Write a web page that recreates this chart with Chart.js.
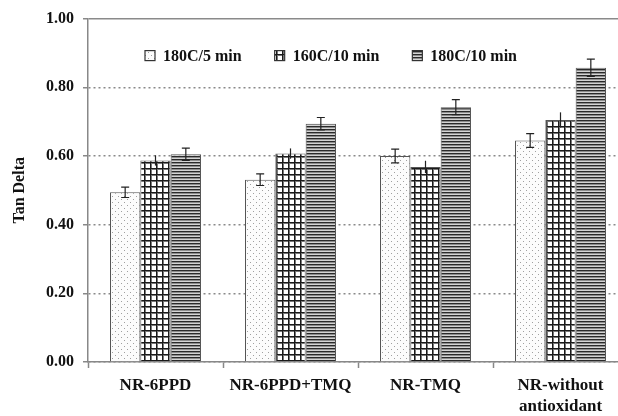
<!DOCTYPE html>
<html>
<head>
<meta charset="utf-8">
<script src="https://cdn.jsdelivr.net/npm/chart.js@4.4.1/dist/chart.umd.min.js"></script>
<style>
  html, body { margin: 0; padding: 0; background: #fff; overflow: hidden; }
  canvas { display: block; }
</style>
</head>
<body>
<canvas id="tanDeltaChart" width="630" height="416"></canvas>
<script>
// values
const categories = ['NR-6PPD', 'NR-6PPD+TMQ', 'NR-TMQ', ['NR-without', 'antioxidant']];
const seriesNames = ['180C/5 min', '160C/10 min', '180C/10 min'];
const tan180c5 = [0.494, 0.531, 0.600, 0.645];
const tan160c10 = [0.587, 0.607, 0.568, 0.705];
const tan180c10 = [0.605, 0.694, 0.742, 0.857];
const err180c5 = [0.015, 0.017, 0.020, 0.020];
const err160c10 = [0.015, 0.015, 0.018, 0.022];
const err180c10 = [0.018, 0.018, 0.022, 0.025];
const yTicks = [0, 0.2, 0.4, 0.6, 0.8, 1.0];

const serif = "'Liberation Serif', 'Times New Roman', serif";
const textColor = '#111';

// fill patterns for the bars
function makePattern(w, h, paint) {
    const c = document.createElement('canvas');
    c.width = w; c.height = h;
    const g = c.getContext('2d');
    paint(g);
    return g.createPattern(c, 'repeat');
}

const dotFill = makePattern(6, 6, g => {
    g.fillStyle = '#fcfcfc';
    g.fillRect(0, 0, 6, 6);
    g.fillStyle = '#a0a0a0';
    g.fillRect(1, 1, 1, 1);
    g.fillRect(4, 4, 1, 1);
});

const gridFill = makePattern(6, 6, g => {
    g.fillStyle = '#fff';
    g.fillRect(0, 0, 6, 6);
    g.fillStyle = '#777';
    g.fillRect(1, 0, 1, 6);
    g.fillRect(0, 1, 6, 1);
    g.fillStyle = '#1a1a1a';
    g.fillRect(0, 0, 1, 6);
    g.fillRect(0, 0, 6, 1);
});

const stripeFill = makePattern(4, 3, g => {
    const rows = ['#2a2a2a', '#8c8c8c', '#d4d4d4'];
    rows.forEach((col, i) => {
        g.fillStyle = col;
        g.fillRect(0, i, 4, 1);
    });
});

const errors = [err180c5, err160c10, err180c10];
const capHalf = [4, 0, 4]; // middle series has plain lines

const errorBars = {
    id: 'errorBars',
    afterDatasetsDraw(chart) {
        const { ctx } = chart;
        const y = chart.scales.y;
        ctx.save();
        ctx.strokeStyle = '#222';
        ctx.lineWidth = 1.2;
        chart.data.datasets.forEach((ds, i) => {
            const meta = chart.getDatasetMeta(i);
            meta.data.forEach((bar, j) => {
                const v = ds.data[j];
                const e = errors[i][j];
                const top = y.getPixelForValue(v + e);
                const bot = y.getPixelForValue(v - e);
                ctx.beginPath();
                ctx.moveTo(bar.x, top);
                ctx.lineTo(bar.x, bot);
                if (capHalf[i]) {
                    ctx.moveTo(bar.x - capHalf[i], top);
                    ctx.lineTo(bar.x + capHalf[i], top);
                    ctx.moveTo(bar.x - capHalf[i], bot);
                    ctx.lineTo(bar.x + capHalf[i], bot);
                }
                ctx.stroke();
            });
        });
        ctx.restore();
    }
};

// legend sits inside the plot, near the top
const innerLegend = {
    id: 'innerLegend',
    afterDraw(chart) {
        const { ctx, chartArea } = chart;
        ctx.save();
        ctx.font = 'bold 16px ' + serif;
        ctx.textBaseline = 'middle';
        let x = chartArea.left + 57;
        const cy = chartArea.top + 37;
        chart.data.datasets.forEach(ds => {
            ctx.fillStyle = ds.backgroundColor;
            ctx.fillRect(x, cy - 5, 10, 10);
            ctx.strokeStyle = '#333';
            ctx.lineWidth = 1.2;
            ctx.strokeRect(x, cy - 5, 10, 10);
            ctx.fillStyle = textColor;
            ctx.fillText(ds.label, x + 18, cy + 1);
            x += 18 + ctx.measureText(ds.label).width + 33;
        });
        ctx.restore();
    }
};

const ctx = document.getElementById('tanDeltaChart').getContext('2d');
new Chart(ctx, {
    type: 'bar',
    data: {
        labels: categories,
        datasets: [
            { label: seriesNames[0], data: tan180c5, backgroundColor: dotFill },
            { label: seriesNames[1], data: tan160c10, backgroundColor: gridFill },
            { label: seriesNames[2], data: tan180c10, backgroundColor: stripeFill },
        ].map(d => Object.assign(d, {
            borderColor: '#555',
            borderWidth: 1,
            categoryPercentage: 0.674,
            barPercentage: 1.0,
        })),
    },
    options: {
        responsive: false,
        animation: false,
        layout: { padding: { top: 18, right: 2, left: 0, bottom: 0 } },
        plugins: {
            legend: { display: false },
            tooltip: { enabled: false },
        },
        scales: {
            x: {
                afterFit: s => { s.height = 54; },
                grid: {
                    drawOnChartArea: false,
                    tickLength: 6,
                    tickColor: '#888',
                    tickWidth: 1.5,
                },
                border: { color: '#888', width: 1.5 },
                ticks: {
                    padding: 7,
                    color: textColor,
                    font: { family: serif, size: 17, weight: 'bold', lineHeight: 1.25 },
                    maxRotation: 0,
                    autoSkip: false,
                },
            },
            y: {
                min: 0,
                max: 1,
                afterFit: s => { s.width = 88; },
                afterBuildTicks: s => { s.ticks = yTicks.map(v => ({ value: v })); },
                grid: {
                    color: '#8a8a8a',
                    lineWidth: 1.5,
                    tickLength: 5,
                    tickColor: '#888',
                    tickBorderDash: [],
                },
                border: {
                    color: '#888',
                    width: 1.5,
                    dash: c => (c.tick && c.tick.value === 1 ? [] : [2, 3]),
                },
                ticks: {
                    padding: 9,
                    color: textColor,
                    font: { family: serif, size: 16, weight: 'bold' },
                    callback: v => Number(v).toFixed(2),
                },
                title: {
                    display: true,
                    text: 'Tan Delta',
                    color: textColor,
                    font: { family: serif, size: 16, weight: 'bold' },
                    padding: { top: 10, bottom: 0 },
                },
            },
        },
    },
    plugins: [errorBars, innerLegend],
});
</script>
</body>
</html>
